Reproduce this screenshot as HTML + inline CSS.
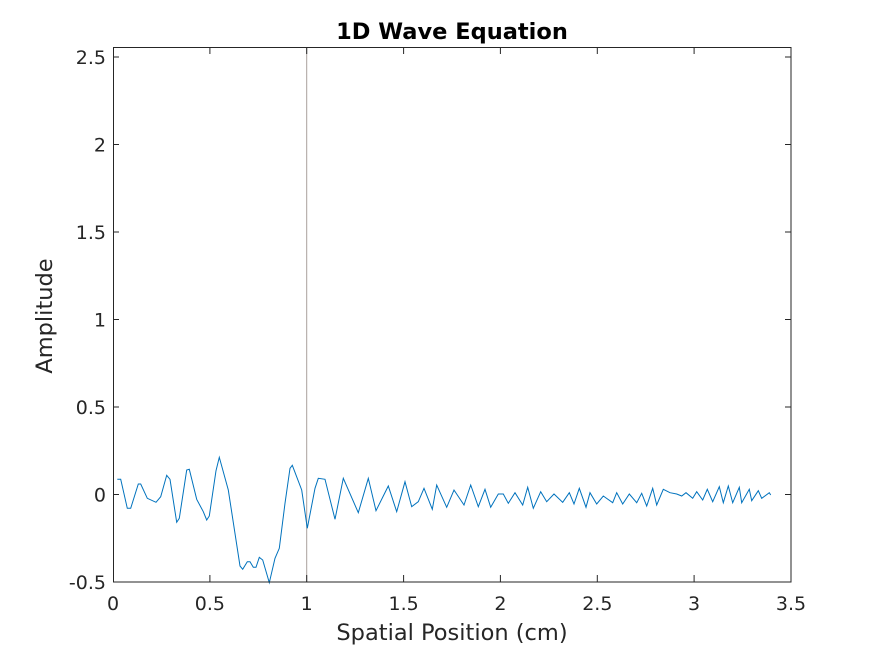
<!DOCTYPE html>
<html><head><style>body{margin:0;background:#fff}svg{display:block}</style></head><body>
<svg width="874" height="655" xmlns="http://www.w3.org/2000/svg" font-family="DejaVu Sans, Liberation Sans, sans-serif">
<rect width="874" height="655" fill="#fff"/>
<line x1="306.7" y1="47" x2="306.7" y2="582" stroke="#a8a09c" stroke-width="1"/>
<polyline fill="none" stroke="#0072bd" stroke-width="1" points="117.3,479.3 120.7,479.3 127.3,508.3 130.7,508.3 138.3,484 140.7,484 147.3,498.3 156,502.3 160.7,496.7 166.7,475.3 170,479.3 176.7,522.3 179.3,518.3 186.7,470 189.3,469.3 196.7,499.3 203.3,511.7 206.7,520 209.3,516 216,470.7 219.3,457.3 228.3,490 240,566 242.7,569.3 247.3,561.7 250,561.7 253.3,567.3 256,567.3 259.3,557.3 262.7,560 269.3,582.7 275,558.3 279.3,548.3 285,503.3 290,468.3 292.3,465.3 301.7,490 307.3,528.3 315,488.3 318.3,478.3 325,479.3 335,519.3 343.3,478.3 358.3,512.7 368.3,478.3 376,510.7 388.3,486 396.7,511.7 405,481.7 411.7,506.7 418.3,501.7 424,488.3 432.3,509.3 436.7,485 446.7,507.3 454,490 464,505 470.7,485 478.3,506.7 485,489.3 490.7,507.3 498.3,494 503.3,494 508.3,503.3 515,492.7 522.7,505 527.7,487.3 533.3,508.3 540.7,491.7 546.7,501.7 554,494 562.7,502.3 569.3,492.7 574,504 579.3,488.3 586,507.3 590,492.7 596.7,504 603.3,496 612.7,502.7 616.7,492.7 622.7,504 629.3,494 636.7,502.7 641.7,493.3 646.7,506 652.7,488.3 656.7,505 663.3,489.3 670,492.7 676.7,494 681.7,496 686,492.7 692.7,498.3 696.7,491.7 702.7,500 707.3,489.3 712.7,501.7 719.3,486.7 723.3,502.7 728.3,486 732.7,502.7 739.3,487.3 741.7,502.7 749.3,489.3 751.7,500.7 758.3,490.7 761.7,498.3 769.3,492.7 770.7,495"/>
<rect x="113.5" y="47.5" width="677.5" height="534.5" fill="none" stroke="#262626" stroke-width="1"/>
<g stroke="#262626" stroke-width="1">
<line x1="113" y1="57" x2="119" y2="57"/><line x1="791" y1="57" x2="785" y2="57"/>
<line x1="113" y1="144.5" x2="119" y2="144.5"/><line x1="791" y1="144.5" x2="785" y2="144.5"/>
<line x1="113" y1="232" x2="119" y2="232"/><line x1="791" y1="232" x2="785" y2="232"/>
<line x1="113" y1="319.5" x2="119" y2="319.5"/><line x1="791" y1="319.5" x2="785" y2="319.5"/>
<line x1="113" y1="407" x2="119" y2="407"/><line x1="791" y1="407" x2="785" y2="407"/>
<line x1="113" y1="494.5" x2="119" y2="494.5"/><line x1="791" y1="494.5" x2="785" y2="494.5"/>
<line x1="306.7" y1="582" x2="306.7" y2="575"/><line x1="306.7" y1="47" x2="306.7" y2="54"/>
<line x1="209.9" y1="582" x2="209.9" y2="575"/><line x1="209.9" y1="47" x2="209.9" y2="54"/>
<line x1="403.6" y1="582" x2="403.6" y2="575"/><line x1="403.6" y1="47" x2="403.6" y2="54"/>
<line x1="500.4" y1="582" x2="500.4" y2="575"/><line x1="500.4" y1="47" x2="500.4" y2="54"/>
<line x1="597.3" y1="582" x2="597.3" y2="575"/><line x1="597.3" y1="47" x2="597.3" y2="54"/>
<line x1="694.1" y1="582" x2="694.1" y2="575"/><line x1="694.1" y1="47" x2="694.1" y2="54"/>
</g>
<g font-size="19" fill="#262626" text-anchor="end">
<text x="106" y="64">2.5</text><text x="106" y="151.5">2</text><text x="106" y="239">1.5</text><text x="106" y="326.5">1</text><text x="106" y="414">0.5</text><text x="106" y="501.5">0</text><text x="106" y="589">-0.5</text>
</g>
<g font-size="19" fill="#262626" text-anchor="middle">
<text x="113" y="610">0</text><text x="209.9" y="610">0.5</text><text x="306.7" y="610">1</text><text x="403.6" y="610">1.5</text><text x="500.4" y="610">2</text><text x="597.3" y="610">2.5</text><text x="694.1" y="610">3</text><text x="791" y="610">3.5</text>
<text x="452" y="640" font-size="22.5">Spatial Position (cm)</text>
<text x="452" y="39" font-size="22.5" font-weight="bold" fill="#000">1D Wave Equation</text>
<text transform="translate(52,316) rotate(-90)" font-size="22.5">Amplitude</text>
</g>
</svg>
</body></html>
